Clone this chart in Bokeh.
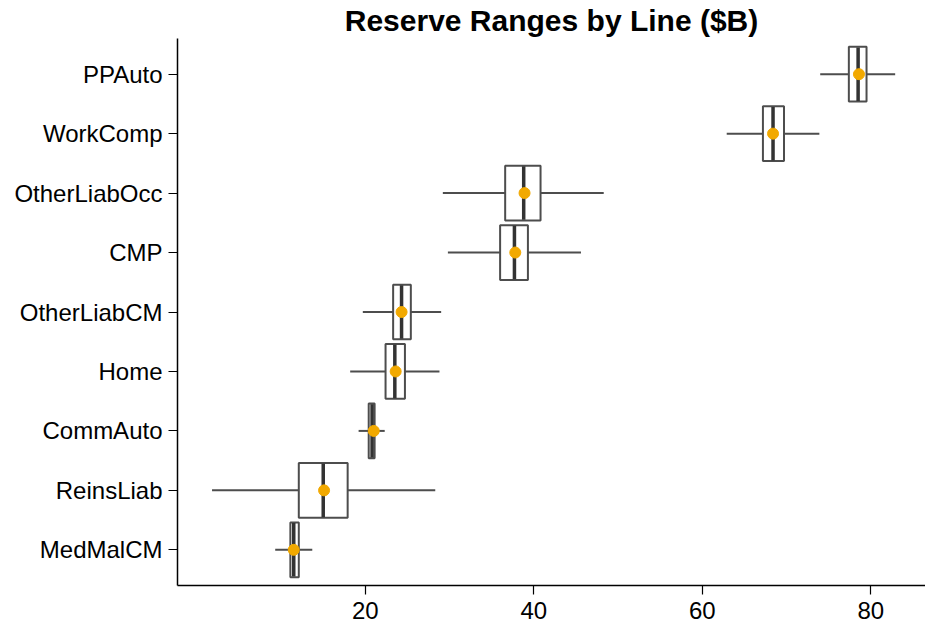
from bokeh.plotting import figure
from bokeh.models import FactorRange, Range1d, FixedTicker, ColumnDataSource
from bokeh.embed import file_html
from bokeh.resources import INLINE

lines = ["PPAuto", "WorkComp", "OtherLiabOcc", "CMP", "OtherLiabCM", "Home", "CommAuto", "ReinsLiab", "MedMalCM"]
low = [74.0, 62.9, 29.2, 29.8, 19.7, 18.2, 19.2, 1.8, 9.3]
q1 = [77.4, 67.2, 36.6, 36.0, 23.3, 22.4, 20.4, 12.1, 11.1]
median = [78.5, 68.4, 38.8, 37.7, 24.3, 23.5, 20.8, 15.0, 11.5]
q3 = [79.5, 69.7, 40.8, 39.3, 25.4, 24.7, 21.1, 17.9, 12.1]
high = [82.9, 73.9, 48.3, 45.6, 29.0, 28.8, 22.3, 28.3, 13.7]
mean = [78.6, 68.4, 38.9, 37.8, 24.3, 23.6, 21.0, 15.1, 11.5]
x_ticks = [20, 40, 60, 80]

src = ColumnDataSource(dict(
    line=lines, low=low, q1=q1, median=median, q3=q3, high=high, mean=mean,
    top=[(c, 0.45) for c in lines], bot=[(c, -0.45) for c in lines],
))

y_range = FactorRange(factors=list(reversed(lines)), range_padding=0.1, range_padding_units="absolute")

p = figure(
    frame_width=748, frame_height=547,
    y_range=y_range, x_range=Range1d(-2.3, 86.5),
    output_backend="svg", toolbar_location=None,
    title="Reserve Ranges by Line ($B)",
    min_border_left=177, min_border_right=0, min_border_top=0, min_border_bottom=46,
)
p.outline_line_color = None
p.background_fill_color = "white"
p.border_fill_color = "white"

p.title.align = "center"
p.title.text_font = "Liberation Sans"
p.title.text_font_style = "bold"
p.title.text_font_size = "30px"
p.title.text_color = "black"
p.title.standoff = 3

p.segment(x0="low", x1="high", y0="line", y1="line", source=src, line_color="#4d4d4d", line_width=2)
p.hbar(y="line", left="q1", right="q3", height=0.92, source=src,
       fill_color="white", line_color="#4d4d4d", line_width=2)
p.segment(x0="median", x1="median", y0="bot", y1="top", source=src, line_color="#333333", line_width=3.5)
p.scatter(x="mean", y="line", source=src, size=11, fill_color="#F2A900", line_color="#F2A900")

p.xgrid.visible = False
p.ygrid.visible = False
p.xaxis.ticker = FixedTicker(ticks=x_ticks)
for ax in (p.xaxis[0], p.yaxis[0]):
    ax.axis_line_color = "black"
    ax.axis_line_width = 1.5
    ax.major_tick_line_color = "black"
    ax.major_tick_line_width = 1.2
    ax.major_tick_out = 9
    ax.major_tick_in = 0
    ax.minor_tick_line_color = None
    ax.major_label_text_font = "Liberation Sans"
    ax.major_label_text_font_size = "24px"
    ax.major_label_text_color = "black"
p.yaxis[0].major_label_standoff = 6
p.xaxis[0].major_label_standoff = 7

out = file_html(p, INLINE)
open("out.html", "w").write(out)
